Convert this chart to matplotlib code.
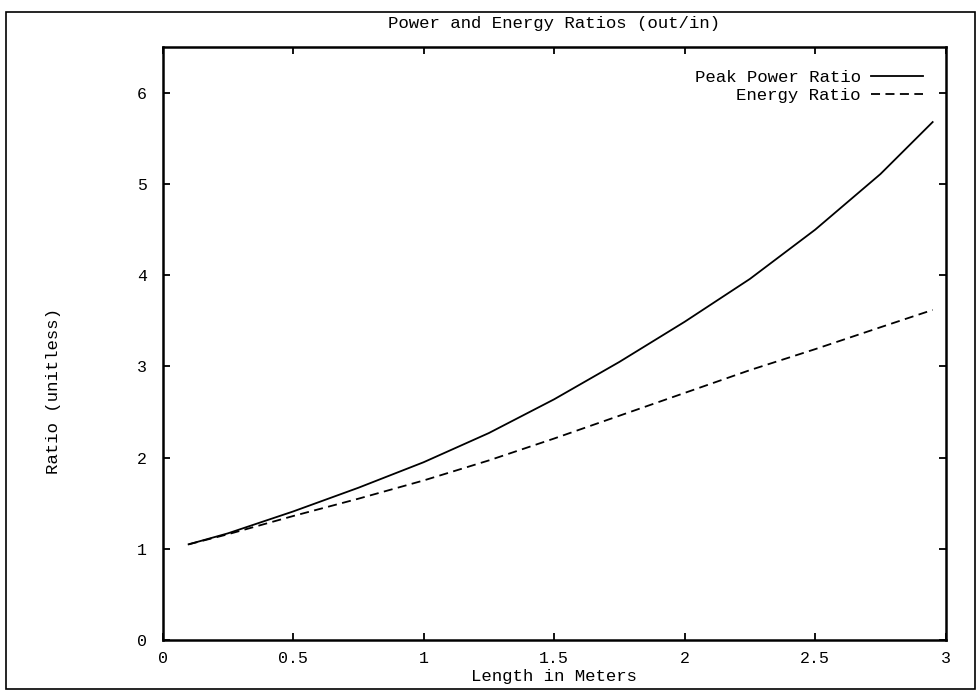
import matplotlib
matplotlib.use("Agg")
import matplotlib.pyplot as plt
from matplotlib.patches import Rectangle

plt.rcParams['font.family'] = ['Liberation Mono', 'DejaVu Sans Mono']

# data
length_m = [0.1, 0.25, 0.5, 0.75, 1.0, 1.25, 1.5, 1.75, 2.0, 2.25, 2.5, 2.75, 2.95]
peak_power_ratio = [1.05, 1.17, 1.41, 1.67, 1.95, 2.27, 2.64, 3.05, 3.49, 3.96, 4.50, 5.11, 5.68]
energy_ratio = [1.05, 1.16, 1.36, 1.55, 1.75, 1.97, 2.21, 2.46, 2.71, 2.96, 3.19, 3.43, 3.62]

x_ticks = [0, 0.5, 1, 1.5, 2, 2.5, 3]
x_tick_labels = ["0", "0.5", "1", "1.5", "2", "2.5", "3"]
y_ticks = [0, 1, 2, 3, 4, 5, 6]

fig = plt.figure(figsize=(9.79, 6.95), dpi=100)
ax = fig.add_axes([0.166, 0.079, 0.800, 0.853])

ax.plot(length_m, peak_power_ratio, color="black", lw=1.3, label="Peak Power Ratio")
ax.plot(length_m, energy_ratio, color="black", lw=1.3, dashes=(5, 3), label="Energy Ratio")

ax.set_xlim(0, 3)
ax.set_ylim(0, 6.5)
ax.set_xticks(x_ticks)
ax.set_xticklabels(x_tick_labels)
ax.set_yticks(y_ticks)
ax.tick_params(direction="in", length=5, width=1.3, top=True, right=True,
               labelsize=12, colors="black")
ax.tick_params(axis="y", pad=11)
ax.tick_params(axis="x", pad=8)
for s in ax.spines.values():
    s.set_linewidth(1.8)

ax.set_title("Power and Energy Ratios (out/in)", fontsize=12.5, pad=14)
ax.set_xlabel("Length in Meters", fontsize=12.5, labelpad=2)
ax.set_ylabel("Ratio (unitless)", fontsize=12.5)
ax.yaxis.set_label_coords(-0.129, 0.42)

leg = ax.legend(loc="upper right", frameon=False, markerfirst=False, fontsize=12.5,
                handlelength=3.0, handletextpad=0.6, labelspacing=0.15,
                borderaxespad=0.9)
leg._legend_box.align = "right"

# outer page border like the scanned figure
fig.patches.append(Rectangle((0.006, 0.008), 0.99, 0.975, transform=fig.transFigure,
                             fill=False, edgecolor="black", lw=1.2))

fig.savefig("out.png", dpi=100)
